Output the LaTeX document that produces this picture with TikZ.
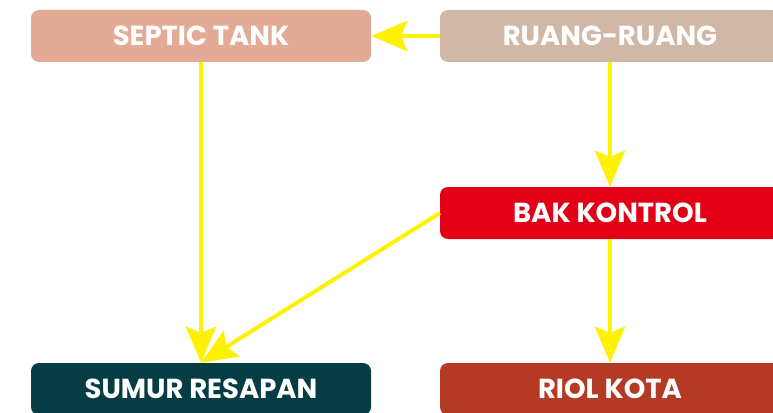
\documentclass[tikz,border=0pt]{standalone}
\usepackage{fontspec}
\setmainfont{Poppins}[BoldFont={* Bold}]
\usetikzlibrary{arrows.meta}

\definecolor{septiccol}{HTML}{E3AA95}
\definecolor{ruangcol}{HTML}{D0B7A6}
\definecolor{bakcol}{HTML}{E30016}
\definecolor{sumurcol}{HTML}{063D45}
\definecolor{riolcol}{HTML}{B53A26}
\definecolor{flowcol}{HTML}{FFF200}

\tikzset{
  unit/.style={rounded corners=8pt, minimum width=340pt, minimum height=52pt,
    inner sep=0pt, text=white, font=\fontsize{27.5}{30}\selectfont\bfseries},
  flow/.style={draw=flowcol, line width=4pt,
    -{Stealth[length=36pt,width=30pt,inset=6pt]}}
}

\begin{document}
\begin{tikzpicture}[x=1pt,y=-1pt]
  \useasboundingbox (0,0) rectangle (773,412);

  % top row
  \node[unit, fill=septiccol] (septic) at (201,36) {SEPTIC TANK};
  \node[unit, fill=ruangcol] (ruang) at (610,36) {RUANG-RUANG};

  % middle
  \node[unit, fill=bakcol] (bak) at (610,213) {BAK KONTROL};

  % bottom row
  \node[unit, fill=sumurcol] (sumur) at (201,389) {SUMUR RESAPAN};
  \node[unit, fill=riolcol] (riol) at (610,389) {RIOL KOTA};

  % connectors
  \draw[flow] (ruang.west) -- (septic.east);
  \draw[flow] (ruang.south) -- (bak.north);
  \draw[flow] (septic.south) -- (sumur.north);
  \draw[flow] (bak.west) -- (sumur.north);
  \draw[flow] (bak.south) -- (riol.north);
\end{tikzpicture}
\end{document}
